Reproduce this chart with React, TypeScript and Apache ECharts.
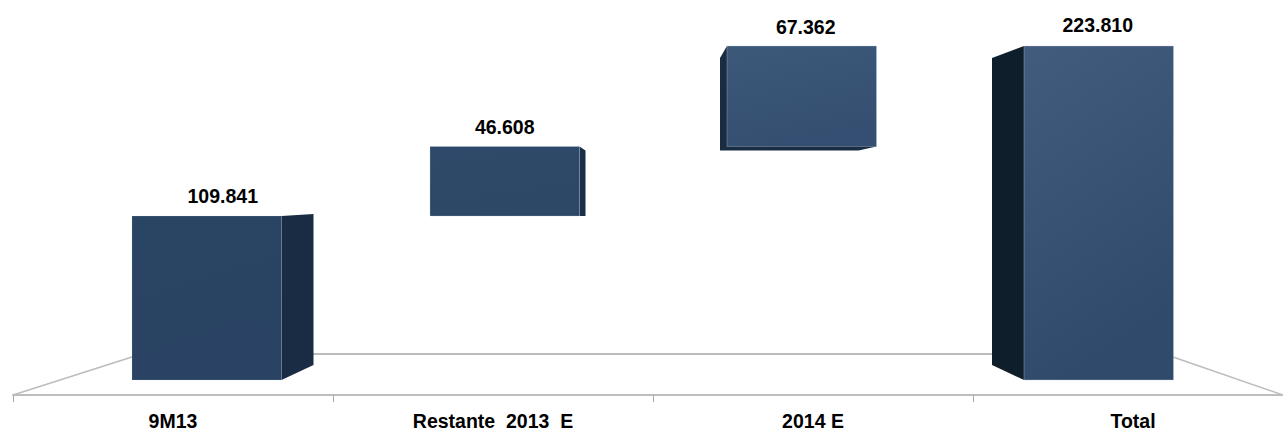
import React, { useEffect, useRef } from "react";
import * as echarts from "echarts";

const categories = ["9M13", "Restante  2013  E", "2014 E", "Total"];
const barStart = [0, 109841, 156449, 0];
const barValue = [109841, 46608, 67362, 223810];
const valueLabels = ["109.841", "46.608", "67.362", "223.810"];

// drawing style of each pseudo-3D box, relative to the category's band centre
const faceLeft = [-41, -63, -86, -109];
const faceWidth = 149.5;
const sideDepth = [32, 6, -7, -32];
const sideRise = [15, 2, 4, 15];
const labelShift = [16, 0, 4, -1];
const frontTop = ["#2a4464", "#2e4969", "#3d5979", "#415c7c"];
const frontBottom = ["#2a4364", "#2d4767", "#344f71", "#304a6b"];
const sideColor = ["#1a2c43", "#1b2f49", "#1a2c42", "#0f1e2b"];
const edgeColor = ["rgba(190,205,222,0.25)", "rgba(190,205,222,0.45)", "rgba(190,205,222,0.55)", "rgba(190,205,222,0.6)"];

const FONT = '"Liberation Sans", Arial, sans-serif';

function renderBox(params: any, api: any) {
  const i = params.dataIndex;
  const cx = api.coord([i, 0])[0];
  const bottom = api.coord([i, api.value(1)])[1];
  const top = api.coord([i, api.value(1) + api.value(2)])[1];
  const x0 = cx + faceLeft[i];
  const x1 = x0 + faceWidth;
  const d = sideDepth[i];
  const r = sideRise[i];
  const sx = d > 0 ? x1 : x0;
  const children: any[] = [];
  if (i === 2) {
    // seen from the left and from below: dark strip under the face
    children.push({
      type: "polygon",
      shape: { points: [[x0, top], [x0 + d, top + 12], [x0 + d, bottom + 4], [x1 - 18, bottom + 4], [x1, bottom]] },
      style: { fill: sideColor[i] },
    });
  } else {
    children.push({
      type: "polygon",
      shape: {
        points:
          i === 1
            ? [[sx, top], [sx + d, top + 4], [sx + d, bottom - r + 2], [sx, bottom]]
            : i === 0
              ? [[sx, top], [sx + d, top - 2], [sx + d, bottom - r], [sx, bottom]]
              : [[sx, top], [sx + d, top + 12], [sx + d, bottom - r], [sx, bottom]],
      },
      style: { fill: sideColor[i] },
    });
  }
  children.push({
    type: "rect",
    shape: { x: x0, y: top, width: faceWidth, height: bottom - top },
    style: {
      fill: new echarts.graphic.LinearGradient(0, 0, 0.3, 1, [
        { offset: 0, color: frontTop[i] },
        { offset: 1, color: frontBottom[i] },
      ]),
      stroke: edgeColor[i],
      lineWidth: 0.6,
    },
  });
  const labelX = x0 + faceWidth / 2 + labelShift[i];
  children.push({
    type: "text",
    style: {
      text: valueLabels[i],
      x: labelX,
      y: top - (i === 3 ? 21 : i === 2 ? 19 : 20),
      align: "center",
      verticalAlign: "middle",
      font: `bold 19.5px ${FONT}`,
      fill: "#000000",
    },
  });
  return { type: "group", children };
}

export default function App() {
  const ref = useRef<HTMLDivElement>(null);
  useEffect(() => {
    const chart = echarts.init(ref.current!, undefined, { renderer: "svg" });
    const line = { stroke: "#bcbcbc", lineWidth: 2 };
    chart.setOption({
      animation: false,
      backgroundColor: "#ffffff",
      grid: { left: 13, top: 46, width: 1280, height: 334, containLabel: false, outerBoundsMode: "none" },
      xAxis: {
        type: "category",
        data: categories,
        offset: 15,
        axisLine: { onZero: false, lineStyle: { color: "#bdbdbd", width: 2 } },
        axisTick: { show: true, length: 7, lineStyle: { color: "#a8a8a8", width: 1 } },
        axisLabel: {
          margin: 18,
          lineHeight: 16,
          interval: 0,
          color: "#000000",
          fontFamily: FONT,
          fontWeight: "bold",
          fontSize: 19.5,
          hideOverlap: false,
        },
      },
      yAxis: { type: "value", min: 0, max: barValue[3], show: false, splitLine: { show: false } },
      graphic: {
        elements: [
          { type: "polyline", silent: true, z: 0, shape: { points: [[13, 395], [132, 357]] }, style: { ...line, fill: "none", lineWidth: 1.5 } },
          { type: "line", silent: true, z: 0, shape: { x1: 313, y1: 354, x2: 993, y2: 354 }, style: line },
          { type: "polyline", silent: true, z: 0, shape: { points: [[1173, 357], [1283, 395]] }, style: { ...line, fill: "none", lineWidth: 1.5 } },
        ],
      },
      series: [
        {
          type: "custom",
          z: 5,
          clip: false,
          renderItem: renderBox,
          encode: { x: 0, y: 1 },
          data: categories.map((_, i) => [i, barStart[i], barValue[i]]),
        },
      ],
    });
    return () => chart.dispose();
  }, []);
  return <div ref={ref} style={{ position: "fixed", left: 0, top: 0, width: 1283, height: 432 }} />;
}
